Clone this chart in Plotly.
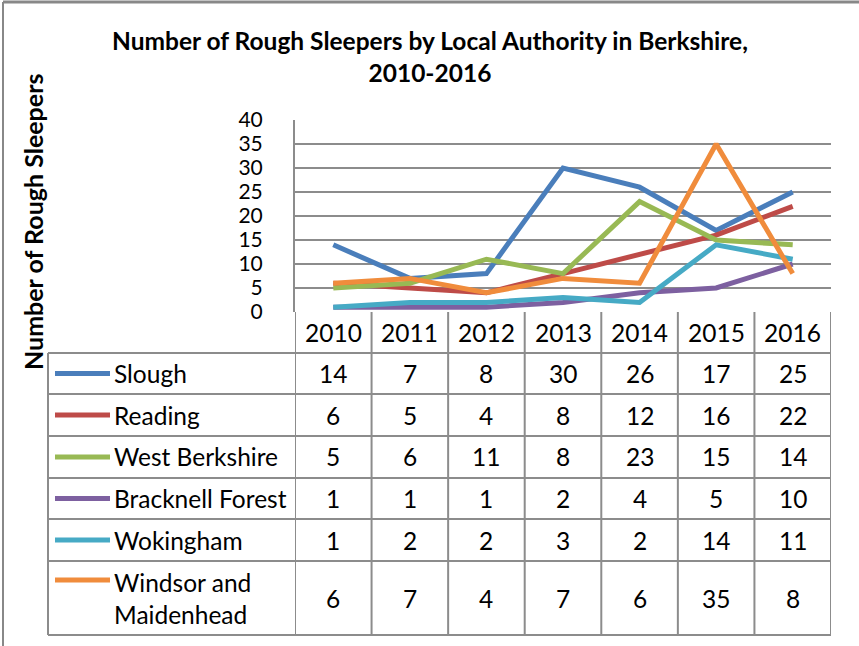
import plotly.graph_objects as go

years = ["2010", "2011", "2012", "2013", "2014", "2015", "2016"]
series_names = ["Slough", "Reading", "West Berkshire", "Bracknell Forest", "Wokingham", "Windsor and<br>Maidenhead"]
slough = [14, 7, 8, 30, 26, 17, 25]
reading = [6, 5, 4, 8, 12, 16, 22]
west_berkshire = [5, 6, 11, 8, 23, 15, 14]
bracknell_forest = [1, 1, 1, 2, 4, 5, 10]
wokingham = [1, 2, 2, 3, 2, 14, 11]
windsor_maidenhead = [6, 7, 4, 7, 6, 35, 8]
y_ticks = [0, 5, 10, 15, 20, 25, 30, 35, 40]

series_values = [slough, reading, west_berkshire, bracknell_forest, wokingham, windsor_maidenhead]
colors = ["#4A7EBB", "#BE4B48", "#98B954", "#7D60A0", "#46AAC5", "#F08C3C"]

W, H = 859, 646
FONT = "Lato"
GRID = "#8C8C8C"
TXT = 24.5

def px(x):
    return x / W

def py(y):
    return 1 - y / H

fig = go.Figure()

for name, vals, col in zip(series_names, series_values, colors):
    fig.add_trace(go.Scatter(
        x=list(range(len(years))), y=vals, mode="lines",
        line=dict(color=col, width=5), name=name.replace("<br>", " "),
        showlegend=False, hoverinfo="skip"))

plot_left, plot_right = 295, 831
plot_top, plot_bottom = 120, 312

fig.update_layout(
    width=W, height=H,
    margin=dict(l=0, r=0, t=0, b=0, pad=0, autoexpand=False),
    paper_bgcolor="white", plot_bgcolor="white",
    font=dict(family=FONT, color="black"),
    xaxis=dict(domain=[px(plot_left), px(plot_right)], range=[-0.5, len(years) - 0.5],
               showticklabels=False, showgrid=False, zeroline=False, ticks="",
               automargin=False, fixedrange=True),
    yaxis=dict(domain=[py(plot_bottom), py(plot_top)], range=[0, 40],
               tickvals=y_ticks, ticktext=[str(v) for v in y_ticks],
               showgrid=True, gridcolor=GRID, gridwidth=2, zeroline=False,
               showline=True, linecolor=GRID, linewidth=2,
               ticks="", tickfont=dict(size=21, family=FONT), ticklabelstandoff=26,
               automargin=False, fixedrange=True),
    showlegend=False,
)

shapes = []
line_style = dict(color=GRID, width=2)

# outer chart frame (top and left visible)
shapes.append(dict(type="line", xref="paper", yref="paper", x0=px(3), x1=1, y0=py(2), y1=py(2),
                   line=dict(color="#888888", width=3)))
shapes.append(dict(type="line", xref="paper", yref="paper", x0=px(3), x1=px(3), y0=py(2), y1=0,
                   line=dict(color="#888888", width=2)))

# table geometry
header_top = 312
row_bounds = [353, 394, 436, 478, 519, 561, 635]
legend_left = 48

for i in range(len(years) + 1):
    shapes.append(dict(type="line", xref="x", yref="paper", x0=i - 0.5, x1=i - 0.5,
                       y0=py(header_top), y1=py(row_bounds[-1]), line=line_style))
shapes.append(dict(type="line", xref="paper", yref="paper", x0=px(legend_left), x1=px(legend_left),
                   y0=py(row_bounds[0]), y1=py(row_bounds[-1]), line=line_style))
for yb in row_bounds:
    shapes.append(dict(type="line", xref="paper", yref="paper", x0=px(legend_left), x1=px(plot_right),
                       y0=py(yb), y1=py(yb), line=line_style))

annotations = []
for i, yr in enumerate(years):
    annotations.append(dict(x=i, y=py((header_top + row_bounds[0]) / 2), xref="x", yref="paper",
                            text=yr, showarrow=False, font=dict(size=TXT, family=FONT),
                            xanchor="center", yanchor="middle"))
for r, (name, vals, col) in enumerate(zip(series_names, series_values, colors)):
    yc = (row_bounds[r] + row_bounds[r + 1]) / 2
    ly = yc - 18 if "<br>" in name else yc
    shapes.append(dict(type="line", xref="paper", yref="paper", x0=px(55), x1=px(110),
                       y0=py(ly), y1=py(ly), line=dict(color=col, width=5)))
    annotations.append(dict(x=px(112), y=py(yc), xref="paper", yref="paper",
                            text=name, showarrow=False, align="left",
                            font=dict(size=TXT, family=FONT),
                            xanchor="left", yanchor="middle"))
    for i, v in enumerate(vals):
        annotations.append(dict(x=i, y=py(yc), xref="x", yref="paper",
                                text=str(v), showarrow=False, font=dict(size=TXT, family=FONT),
                                xanchor="center", yanchor="middle"))

annotations.append(dict(x=px(430), y=py(56), xref="paper", yref="paper",
                        text="<b>Number of Rough Sleepers by Local Authority in Berkshire,<br>2010-2016</b>",
                        showarrow=False, font=dict(size=24.5, family=FONT), align="center",
                        xanchor="center", yanchor="middle"))
annotations.append(dict(x=px(33), y=py(222), xref="paper", yref="paper",
                        text="<b>Number of Rough Sleepers</b>", textangle=-90,
                        showarrow=False, font=dict(size=25, family=FONT),
                        xanchor="center", yanchor="middle"))

fig.update_layout(shapes=shapes, annotations=annotations)
fig.write_html("out.html")
